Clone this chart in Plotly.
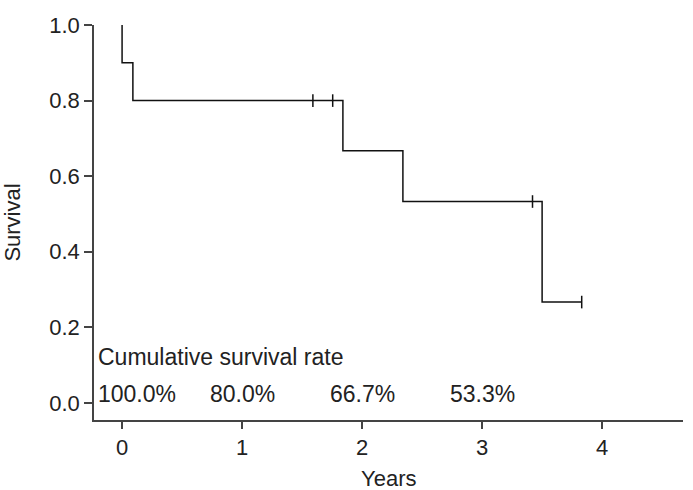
import plotly.graph_objects as go

# Kaplan-Meier step data
step_times = [0.0, 0.0, 0.09, 1.84, 2.34, 3.50, 3.83]
step_surv = [1.0, 0.9, 0.8, 0.667, 0.533, 0.267, 0.267]

# Censored observations
censor_times = [1.59, 1.755, 3.42, 3.83]
censor_surv = [0.8, 0.8, 0.533, 0.267]

# Cumulative survival rate labels
rate_years = [0, 1, 2, 3]
rate_labels = ["100.0%", "80.0%", "66.7%", "53.3%"]

x_ticks = [0, 1, 2, 3, 4]
y_ticks = [0.0, 0.2, 0.4, 0.6, 0.8, 1.0]
y_tick_text = ["0.0", "0.2", "0.4", "0.6", "0.8", "1.0"]

FONT = "Liberation Sans, Arial, sans-serif"
TXT = "#222222"
AX = "#444444"
FS = 22

fig = go.Figure()
fig.add_trace(go.Scatter(
    x=step_times, y=step_surv, mode="lines",
    line=dict(shape="hv", color="#111111", width=1.5),
    hoverinfo="skip", showlegend=False,
))
fig.add_trace(go.Scatter(
    x=censor_times, y=censor_surv, mode="markers",
    marker=dict(symbol="line-ns", size=9, line=dict(color="#111111", width=1.5)),
    hoverinfo="skip", showlegend=False,
))

fig.add_annotation(x=-0.22, y=0.122, xref="x", yref="y", text="Cumulative survival rate",
                   showarrow=False, xanchor="left", yanchor="middle",
                   font=dict(family=FONT, size=23, color=TXT))
for yr, lab in zip(rate_years, rate_labels):
    if yr == 0:
        fig.add_annotation(x=-0.22, y=0.024, xref="x", yref="y", text=lab, showarrow=False,
                           xanchor="left", yanchor="middle",
                           font=dict(family=FONT, size=23, color=TXT))
    else:
        fig.add_annotation(x=yr, y=0.024, xref="x", yref="y", text=lab, showarrow=False,
                           xanchor="center", yanchor="middle",
                           font=dict(family=FONT, size=23, color=TXT))

# x-axis title placed low, near the bottom edge as in the original
fig.add_annotation(x=0.5, y=-0.112, xref="paper", yref="paper", text="Years",
                   showarrow=False, xanchor="center", yanchor="top",
                   font=dict(family=FONT, size=FS, color=TXT))

fig.update_layout(
    width=693, height=490,
    margin=dict(l=94, r=10, t=25, b=70),
    paper_bgcolor="white", plot_bgcolor="white",
    font=dict(family=FONT, size=FS, color=TXT),
    xaxis=dict(range=[-0.234, 4.674], tickvals=x_ticks, ticks="outside", ticklen=7,
               tickcolor=AX, tickwidth=1.5, showline=True, linecolor=AX, linewidth=1.5,
               showgrid=False, zeroline=False, automargin=False),
    yaxis=dict(range=[-0.045, 1.0], tickvals=y_ticks, ticktext=y_tick_text,
               ticks="outside", ticklen=8, tickcolor=AX, tickwidth=1.5, automargin=False,
               showline=True, linecolor=AX, linewidth=1.5, showgrid=False, zeroline=False,
               title=dict(text="Survival", standoff=26, font=dict(size=FS))),
)

fig.write_html("out.html")
